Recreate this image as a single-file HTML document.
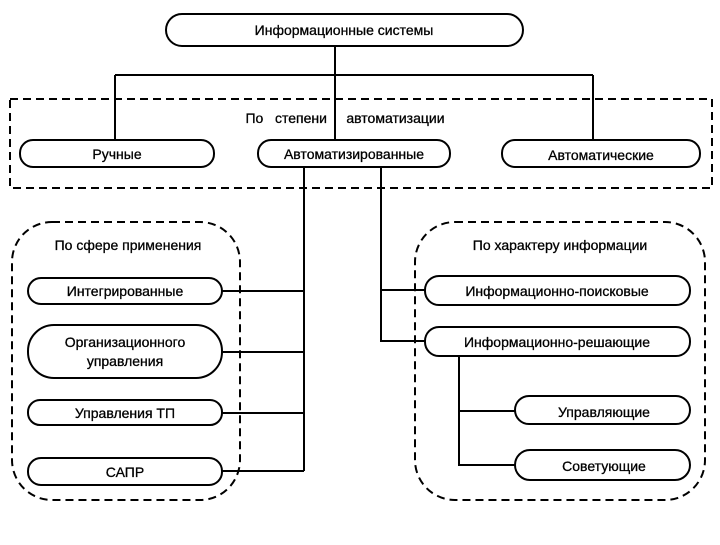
<!DOCTYPE html>
<html><head><meta charset="utf-8"><style>
html,body{margin:0;padding:0;background:#fff}
svg text{font-family:"Liberation Sans",Arial,sans-serif;font-size:14px;fill:#000;text-anchor:middle;dominant-baseline:central;stroke:#000;stroke-width:0.3}
</style></head><body>
<svg width="720" height="540" viewBox="0 0 720 540" xmlns="http://www.w3.org/2000/svg">
<g fill="none" stroke="#000" stroke-width="2">
<rect x="10" y="99" width="702" height="89" stroke-dasharray="8,5"/>
<rect x="12" y="222" width="228" height="278" rx="40" stroke-dasharray="8,5"/>
<rect x="415" y="222" width="290" height="278" rx="40" stroke-dasharray="8,5"/>
<path d="M335 46V140M115 75H593M115 75V140M593 75V140"/>
<path d="M304 167V471M222 291H304M222 352H304M222 413H304M222 471H304"/>
<path d="M381 167V341H425M381 290H425"/>
<path d="M459 356V465H516M459 411H516"/>
<rect x="166" y="14" width="357" height="32" rx="16" fill="#fff"/>
<rect x="20" y="140" width="194" height="27" rx="13" fill="#fff"/>
<rect x="258" y="140" width="192" height="27" rx="13" fill="#fff"/>
<rect x="502" y="140" width="198" height="27" rx="13" fill="#fff"/>
<rect x="28" y="278" width="194" height="26" rx="13" fill="#fff"/>
<rect x="28" y="325" width="194" height="53" rx="26" fill="#fff"/>
<rect x="28" y="400" width="194" height="25" rx="12" fill="#fff"/>
<rect x="28" y="458" width="194" height="27" rx="13" fill="#fff"/>
<rect x="425" y="276" width="265" height="29" rx="14" fill="#fff"/>
<rect x="425" y="327" width="265" height="29" rx="14" fill="#fff"/>
<rect x="515" y="396" width="175" height="28" rx="14" fill="#fff"/>
<rect x="515" y="450" width="175" height="30" rx="15" fill="#fff"/>
</g>
<text x="344" y="30">Информационные системы</text>
<text x="345" y="118" xml:space="preserve">По   степени     автоматизации</text>
<text x="117" y="154">Ручные</text>
<text x="354" y="154">Автоматизированные</text>
<text x="601" y="155">Автоматические</text>
<text x="128" y="245">По сфере  применения</text>
<text x="125" y="291">Интегрированные</text>
<text x="125" y="342">Организационного</text>
<text x="125" y="361">управления</text>
<text x="125" y="413">Управления ТП</text>
<text x="125" y="472">САПР</text>
<text x="560" y="245">По характеру  информации</text>
<text x="557" y="291">Информационно-поисковые</text>
<text x="557" y="342">Информационно-решающие</text>
<text x="604" y="412">Управляющие</text>
<text x="604" y="466">Советующие</text>
</svg>
</body></html>
